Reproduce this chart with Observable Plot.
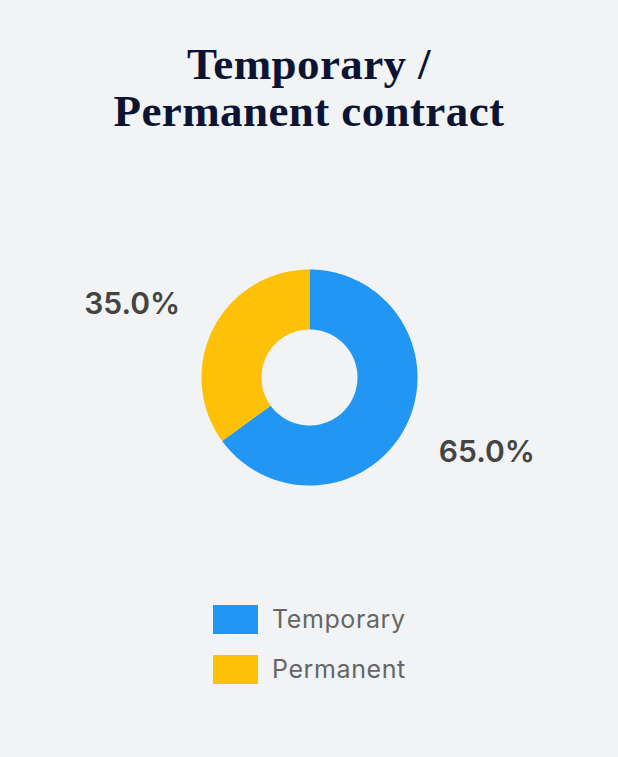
<!DOCTYPE html>
<html>
<head>
<meta charset="utf-8">
<script src="https://cdn.jsdelivr.net/npm/d3@7"></script>
<script src="https://cdn.jsdelivr.net/npm/@observablehq/plot@0.6"></script>
<style>
  html, body { margin: 0; padding: 0; background: #f1f3f5; }
  #wrap { position: relative; width: 618px; height: 757px; overflow: hidden; background: #f1f3f5; }
  #title { position: absolute; top: 41px; left: 0; width: 618px; text-align: center;
    font-family: "Liberation Serif", "DejaVu Serif", serif; font-weight: bold; font-size: 45px;
    line-height: 47px; color: #0b1533; letter-spacing: 0.4px; }
  #chart { position: absolute; top: 157px; left: 0; }
  #legend { position: absolute; top: 604px; left: 213px; font-family: Inter, "DejaVu Sans", sans-serif; }
  .item { display: flex; align-items: center; height: 30px; margin-bottom: 20px; }
  .sw { width: 45px; height: 29px; margin-right: 14px; }
  .lab { font-size: 25px; color: #666; letter-spacing: 0.6px; }
</style>
</head>
<body>
<div id="wrap">
  <div id="title">Temporary /<br>Permanent contract</div>
  <div id="chart"></div>
  <div id="legend"></div>
</div>
<script>
const categories = ["Temporary", "Permanent"];
const values = [65.0, 35.0];
const colors = ["#2196F3", "#FFC107"];

const W = 618, H = 440;
const R_OUT = 108, R_IN = 48, R_LAB_X = 199, R_LAB_Y = 163;

const pie = d3.pie().sort(null).value(d => d.value);
const arcs = pie(categories.map((c, i) => ({category: c, value: values[i]})));

const polyPts = [];
arcs.forEach(a => {
  const n = 120;
  for (let k = 0; k <= n; k++) {
    const t = a.startAngle + (a.endAngle - a.startAngle) * k / n;
    polyPts.push({category: a.data.category, x: R_OUT * Math.sin(t), y: R_OUT * Math.cos(t)});
  }
  for (let k = n; k >= 0; k--) {
    const t = a.startAngle + (a.endAngle - a.startAngle) * k / n;
    polyPts.push({category: a.data.category, x: R_IN * Math.sin(t), y: R_IN * Math.cos(t)});
  }
});

const labels = arcs.map(a => {
  const m = (a.startAngle + a.endAngle) / 2;
  return {x: R_LAB_X * Math.sin(m), y: R_LAB_Y * Math.cos(m), text: a.data.value.toFixed(1) + "%"};
});

const plot = Plot.plot({
  width: W, height: H,
  margin: 0,
  style: {background: "transparent", overflow: "visible"},
  x: {domain: [-W / 2, W / 2], axis: null},
  y: {domain: [-H / 2, H / 2], axis: null},
  color: {domain: categories, range: colors},
  marks: [
    Plot.line(polyPts, {x: "x", y: "y", z: "category", fill: "category", stroke: "none", curve: "linear"}),
    Plot.text(labels, {x: "x", y: "y", text: "text", fontSize: 30, fontWeight: 600,
      fill: "#444", fontFamily: "Inter, 'DejaVu Sans', sans-serif", dy: 1})
  ]
});
document.getElementById("chart").appendChild(plot);

const leg = document.getElementById("legend");
categories.forEach((c, i) => {
  const it = document.createElement("div"); it.className = "item";
  const sw = document.createElement("div"); sw.className = "sw"; sw.style.background = colors[i];
  const lb = document.createElement("div"); lb.className = "lab"; lb.textContent = c;
  it.appendChild(sw); it.appendChild(lb); leg.appendChild(it);
});
</script>
</body>
</html>
